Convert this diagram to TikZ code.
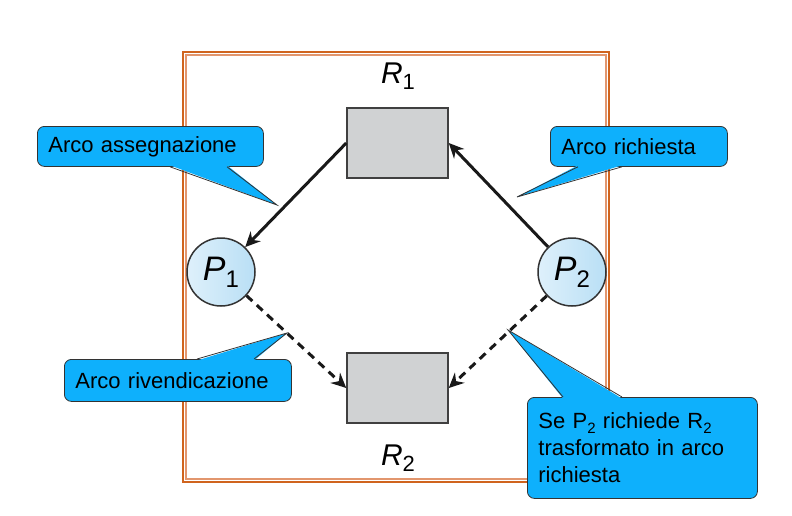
\documentclass[tikz,border=0pt]{standalone}
\usepackage{fontspec}
\setmainfont{Liberation Sans}
\usetikzlibrary{arrows.meta}

\definecolor{callblue}{RGB}{14,176,252}
\definecolor{boxgray}{RGB}{208,210,211}
\definecolor{proclight}{RGB}{222,240,251}
\definecolor{procblue}{RGB}{185,223,245}
\definecolor{frameout}{RGB}{208,100,30}
\definecolor{framein}{RGB}{226,150,110}

% lowered index: size, drop, text
\newcommand{\lowix}[3]{\raisebox{-#2}{\fontsize{#1}{#1}\selectfont\upshape #3}}

\begin{document}
\begin{tikzpicture}[x=1pt,y=-1pt,
  res/.style={draw=black!75,line width=1.5pt,fill=boxgray,minimum width=101pt,minimum height=70pt},
  proc/.style={draw=black!80,line width=1.5pt,circle,minimum size=68pt,inner sep=0pt,
    left color=proclight,right color=procblue,font=\fontsize{34}{34}\selectfont\itshape},
  lab/.style={font=\fontsize{30}{30}\selectfont\itshape},
  callout/.style={draw=black!80,line width=0.8pt,fill=callblue,rounded corners=7pt,
    anchor=north west,align=left,inner xsep=11pt,inner ysep=0pt,font=\fontsize{22}{27}\selectfont},
  tail/.style={draw=black!80,line width=0.8pt,line join=miter},
  arc/.style={line width=3pt,black!90,-{Stealth[length=15pt,width=14pt,inset=5pt]}},
  claim/.style={arc,dash pattern=on 8pt off 6pt}]
  \useasboundingbox (0,0) rectangle (792,515);

  % frame
  \draw[frameout,line width=1.2pt] (183,52) rectangle (609,482);
  \draw[framein,line width=1.2pt] (186,55) rectangle (606,479);

  % resources and processes
  \node[res] (R1) at (397.5,143) {};
  \node[res] (R2) at (397.5,388) {};
  \node[lab] (R1lab) at (398,76) {R\lowix{22}{6pt}{1}};
  \node[lab] (R2lab) at (398,458) {R\lowix{22}{6pt}{2}};
  \node[proc] (P1) at (221,272) {P\lowix{24}{7pt}{1}};
  \node[proc] (P2) at (572,272) {P\lowix{24}{7pt}{2}};

  \draw[arc] (R1.west) -- (P1);
  \draw[arc] (P2) -- (R1.east);
  \draw[claim] (P1) -- (R2.west);
  \draw[claim] (P2) -- (R2.east);

  % callouts
  \coordinate (t1) at (277,205);
  \coordinate (t2) at (517,197);
  \coordinate (t3) at (287,333);
  \coordinate (t4) at (508,330);

  \node[callout,text width=204pt,minimum height=40pt] (c1) at (37,126) {Arco assegnazione};
  \fill[callblue] ([xshift=133pt,yshift=1.5pt]c1.south west) -- (t1) -- ([xshift=190pt,yshift=1.5pt]c1.south west) -- cycle;
  \draw[tail] ([xshift=133pt]c1.south west) -- (t1) -- ([xshift=190pt]c1.south west);

  \node[callout,text width=155pt,minimum height=40pt] (c2) at (550,126) {Arco richiesta};
  \fill[callblue] ([xshift=28pt,yshift=1.5pt]c2.south west) -- (t2) -- ([xshift=72pt,yshift=1.5pt]c2.south west) -- cycle;
  \draw[tail] ([xshift=28pt]c2.south west) -- (t2) -- ([xshift=72pt]c2.south west);

  \node[callout,text width=205pt,minimum height=42pt] (c3) at (64,359) {Arco rivendicazione};
  \fill[callblue] ([xshift=133pt,yshift=-1.5pt]c3.north west) -- (t3) -- ([xshift=190pt,yshift=-1.5pt]c3.north west) -- cycle;
  \draw[tail] ([xshift=133pt]c3.north west) -- (t3) -- ([xshift=190pt]c3.north west);

  \node[callout,text width=208pt,minimum height=101pt] (c4) at (527,397)
    {Se P\lowix{15}{5pt}{2} richiede R\lowix{15}{5pt}{2}\\trasformato in arco\\richiesta};
  \fill[callblue] ([xshift=36pt,yshift=-1.5pt]c4.north west) -- (t4) -- ([xshift=95pt,yshift=-1.5pt]c4.north west) -- cycle;
  \draw[tail] ([xshift=36pt]c4.north west) -- (t4) -- ([xshift=95pt]c4.north west);
\end{tikzpicture}
\end{document}
